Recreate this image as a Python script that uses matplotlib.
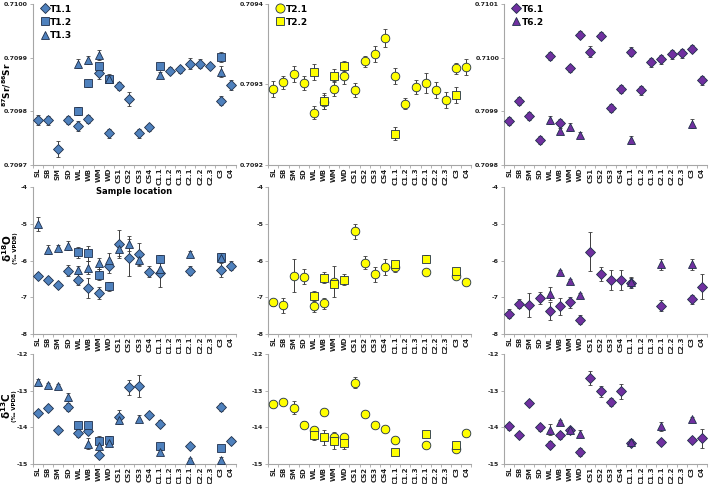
import numpy as np
import matplotlib
matplotlib.use("Agg")
import matplotlib.pyplot as plt
from matplotlib.lines import Line2D

categories = ['SL', 'SB', 'SM', 'SD', 'WL', 'WB', 'WM', 'WD', 'CS1', 'CS2', 'CS3', 'CS4',
              'C1.1', 'C1.2', 'C1.3', 'C2.1', 'C2.2', 'C2.3', 'C3', 'C4']
all_idx = list(range(20))
# positions of the sparse series: WL, WB, WM, WD, C1.1, C2.1, C3
sub_idx = [4, 5, 6, 7, 12, 15, 18]

# 87Sr/86Sr (errors in units of 1e-5)
sr_t11 = [0.709784, 0.709783, 0.709730, 0.709784, 0.709773, 0.709786, 0.709871, 0.709759, 0.709847, 0.709823,
          0.709759, 0.709770, None, 0.709876, 0.709878, 0.709889, 0.709889, 0.709884, 0.709820, 0.709849]
sr_t11_err = [1.0, 0.8, 1.5, 0.7, 0.9, 0.8, 1.0, 0.8, 0.8, 1.3, 0.8, 0.7, 0, 0.6, 0.7, 1.0, 0.8, 0.6, 0.8, 0.9]
sr_t12 = [0.709801, 0.709852, 0.709884, 0.709860, 0.709884, None, 0.709901]
sr_t12_err = [0.7, 0.6, 0.6, 0.6, 0.5, 0, 1.0]
sr_t13 = [0.709889, 0.709896, 0.709905, 0.709861, 0.709868, None, 0.709874]
sr_t13_err = [0.8, 0.8, 1.0, 0.8, 0.5, 0, 1.0]

sr_t21 = [0.709294, 0.709303, 0.709313, 0.709302, 0.709265, 0.709278, 0.709295, 0.709311, 0.709293, 0.709329,
          0.709338, 0.709358, 0.709310, 0.709276, 0.709297, 0.709302, 0.709293, 0.709281, 0.709320, 0.709322]
sr_t21_err = [1.0, 0.8, 1.0, 0.9, 0.8, 0.9, 0.9, 1.0, 0.9, 0.7, 1.0, 1.1, 1.0, 0.7, 0.9, 1.2, 1.0, 1.0, 0.7, 1.0]
sr_t22 = [0.709315, 0.709280, 0.709311, 0.709323, 0.709239, None, 0.709287]
sr_t22_err = [1.0, 1.0, 0.8, 0.6, 0.8, 0, 1.0]

sr_t61 = [0.709882, 0.709919, 0.709891, 0.709847, 0.710003, 0.709879, 0.709980, 0.710043, 0.710011, 0.710041,
          0.709906, 0.709942, 0.710011, 0.709939, 0.709991, 0.709997, 0.710006, 0.710008, 0.710017, 0.709958]
sr_t61_err = [0.8, 0.8, 0.7, 0.7, 0.7, 0.7, 0.6, 0.7, 1.0, 0.7, 0.8, 0.8, 0.8, 0.8, 0.8, 0.8, 0.8, 0.8, 0.6, 0.8]
sr_t62 = [0.709884, 0.709864, 0.709871, 0.709856, 0.709847, None, 0.709877]
sr_t62_err = [0.7, 0.5, 0.7, 0.5, 0.7, 0, 0.8]

# d18O
o_t11 = [-6.41, -6.52, -6.66, -6.28, -6.52, -6.75, -6.88, -6.16, -5.56, -5.92,
         -5.82, -6.30, -6.35, None, None, -6.28, None, None, -6.26, -6.14]
o_t11_err = [0.07, 0.08, 0.06, 0.15, 0.16, 0.28, 0.16, 0.18, 0.38, 0.5,
             0.3, 0.16, 0.38, 0, 0, 0.12, 0, 0, 0.2, 0.13]
o_t12 = [-5.78, -5.80, -6.39, -6.70, -5.96, None, -5.90]
o_t12_err = [0.15, 0.2, 0.15, 0.12, 0.1, 0, 0.1]
o_t13 = [-5.01, -5.71, -5.67, -5.60, -6.26, -6.20, -6.08, -5.99, -5.69, -5.54,
         -5.99, None, -6.23, None, None, -5.81, None, None, -5.92, None]
o_t13_err = [0.2, 0.12, 0.08, 0.12, 0.12, 0.18, 0.15, 0.2, 0.2, 0.2,
             0.15, 0, 0.2, 0, 0, 0.08, 0, 0, 0.12, 0]

o_t21 = [-7.14, -7.22, -6.42, -6.44, -7.25, -7.17, -6.58, None, -5.21, -6.06,
         -6.38, -6.17, -6.17, None, None, -6.31, None, None, -6.41, -6.58]
o_t21_err = [0.1, 0.2, 0.45, 0.2, 0.15, 0.15, 0.42, 0, 0.2, 0.18,
             0.2, 0.22, 0.15, 0, 0, 0.05, 0, 0, 0.05, 0.05]
o_t22 = [-6.96, -6.47, -6.63, -6.53, -6.10, -5.95, -6.28]
o_t22_err = [0.12, 0.15, 0.1, 0.15, 0.07, 0.1, 0.08]

o_t61 = [-7.45, -7.18, -7.22, -7.02, -7.38, -7.25, -7.13, -7.61, -5.76, -6.37,
         -6.54, -6.54, -6.61, None, None, -7.23, None, None, -7.06, -6.71]
o_t61_err = [0.12, 0.12, 0.33, 0.17, 0.25, 0.22, 0.15, 0.12, 0.53, 0.18,
             0.27, 0.27, 0.15, 0, 0, 0.15, 0, 0, 0.13, 0.33]
o_t62 = [-6.90, -6.32, -6.56, -6.95, -6.58, -6.10, -6.10]
o_t62_err = [0.17, 0.05, 0.05, 0.06, 0.1, 0.15, 0.15]

# d13C
c_t11 = [-13.61, -13.47, -14.06, -13.45, -14.15, -14.09, -14.76, None, -13.72, -12.91,
         -12.88, -13.67, -13.90, None, None, -14.50, None, None, -13.45, -14.38]
c_t11_err = [0.05, 0.05, 0.05, 0.1, 0.1, 0.1, 0.05, 0, 0.18, 0.2,
             0.3, 0.05, 0.1, 0, 0, 0.05, 0, 0, 0.1, 0.08]
c_t12 = [-13.93, -13.95, -14.38, -14.34, -14.50, None, -14.56]
c_t12_err = [0.06, 0.05, 0.15, 0.1, 0.05, 0, 0.05]
c_t13 = [-12.77, -12.85, -12.88, -13.17, None, -14.45, -14.50, -14.43, -13.79, None,
         -13.76, None, -14.67, None, None, -14.88, None, None, -14.90, None]
c_t13_err = [0.1, 0.05, 0.05, 0.1, 0, 0.15, 0.1, 0.05, 0.05, 0,
             0.1, 0, 0.05, 0, 0, 0.05, 0, 0, 0.08, 0]

c_t21 = [-13.36, -13.32, -13.47, -13.93, -14.07, -13.57, -14.25, -14.27, -12.79, -13.65,
         -13.94, -14.05, -14.34, None, None, -14.47, None, None, -14.59, -14.15]
c_t21_err = [0.05, 0.05, 0.18, 0.1, 0.05, 0.05, 0.05, 0.05, 0.15, 0.05,
             0.05, 0.05, 0.05, 0, 0, 0.05, 0, 0, 0.05, 0.05]
c_t22 = [-14.20, -14.27, -14.36, -14.43, -14.68, -14.18, -14.47]
c_t22_err = [0.15, 0.2, 0.22, 0.15, 0.05, 0.05, 0.05]

c_t61 = [-13.97, -14.22, -13.34, -14.00, -14.47, -14.22, -14.08, -14.67, -12.65, -13.02,
         -13.31, -13.02, -14.43, None, None, -14.39, None, None, -14.34, -14.30]
c_t61_err = [0.1, 0.05, 0.05, 0.1, 0.1, 0.1, 0.05, 0.1, 0.2, 0.15,
             0.12, 0.2, 0.05, 0, 0, 0.05, 0, 0, 0.05, 0.25]
c_t62 = [-14.06, -13.85, -14.06, -14.17, -14.41, -13.97, -13.76]
c_t62_err = [0.15, 0.05, 0.05, 0.1, 0.1, 0.12, 0.05]

BLUE = '#4f81bd'
YELLOW = '#ffff00'
PURPLE = '#7030a0'
EDGE = '#1f2f4a'
MS = {'D': 4.6, 's': 5.4, '^': 5.6, 'o': 6.2}


def drawSeries(ax, idx, vals, errs, marker, color, scale=1.0):
    x = np.array(idx, dtype=float)
    y = np.array(vals, dtype=float)
    e = np.nan_to_num(np.array(errs, dtype=float)) * scale
    ok = ~np.isnan(y)
    ax.errorbar(x[ok], y[ok], yerr=e[ok], fmt=marker, ms=MS[marker], mfc=color, mec=EDGE, mew=0.6,
                ecolor='#3c3c3c', elinewidth=0.7, capsize=1.4, capthick=0.7, zorder=3)


def styleAxes(ax, ylim, yticks, fmt):
    ax.set_xlim(-0.5, 19.5)
    ax.set_ylim(*ylim)
    ax.set_yticks(yticks)
    ax.set_yticklabels([fmt.format(t) for t in yticks], fontsize=4.5, fontweight='bold', color='#222222')
    ax.set_xticks(all_idx)
    ax.set_xticklabels(categories, rotation=90, fontsize=5, fontweight='bold', color='#222222')
    ax.set_xticks(np.arange(-0.5, 20, 1.0), minor=True)
    ax.tick_params(axis='x', which='major', length=0, pad=2)
    ax.tick_params(axis='x', which='minor', length=2, color='#a6a6a6', width=0.6)
    ax.tick_params(axis='y', length=2, color='#a6a6a6', width=0.6, pad=1.5)
    for s in ['top', 'right']:
        ax.spines[s].set_visible(False)
    for s in ['left', 'bottom']:
        ax.spines[s].set_color('#a6a6a6')
        ax.spines[s].set_linewidth(0.8)


def addLegend(ax, entries):
    handles = [Line2D([], [], ls='none', marker=m, ms=MS[m] + 0.4, mfc=c, mec=EDGE, mew=0.6, label=l)
               for m, c, l in entries]
    ax.legend(handles=handles, loc='upper left', bbox_to_anchor=(0.01, 1.03), frameon=False,
              prop={'size': 6.5, 'weight': 'bold'}, handletextpad=0.1, labelspacing=0.45,
              handlelength=1.0, borderaxespad=0.2)


W, H = 709, 484
fig = plt.figure(figsize=(W / 100, H / 100), dpi=100)
colLeft = [32.6, 268.2, 504.0]
colWidth = 203.2
rows = [(4, 165), (187, 334), (354, 464)]

axes = [[None] * 3 for _ in range(3)]
for r, (top, bottom) in enumerate(rows):
    for c, left in enumerate(colLeft):
        axes[r][c] = fig.add_axes([left / W, 1 - bottom / H, colWidth / W, (bottom - top) / H])

# strontium row
ax = axes[0][0]
drawSeries(ax, all_idx, sr_t11, sr_t11_err, 'D', BLUE, 1e-5)
drawSeries(ax, sub_idx, sr_t12, sr_t12_err, 's', BLUE, 1e-5)
drawSeries(ax, sub_idx, sr_t13, sr_t13_err, '^', BLUE, 1e-5)
styleAxes(ax, (0.7097, 0.7100), [0.7097, 0.7098, 0.7099, 0.7100], '{:.4f}')
addLegend(ax, [('D', BLUE, 'T1.1'), ('s', BLUE, 'T1.2'), ('^', BLUE, 'T1.3')])

ax = axes[0][1]
drawSeries(ax, all_idx, sr_t21, sr_t21_err, 'o', YELLOW, 1e-5)
drawSeries(ax, sub_idx, sr_t22, sr_t22_err, 's', YELLOW, 1e-5)
styleAxes(ax, (0.7092, 0.7094), [0.7092, 0.7093, 0.7094], '{:.4f}')
addLegend(ax, [('o', YELLOW, 'T2.1'), ('s', YELLOW, 'T2.2')])

ax = axes[0][2]
drawSeries(ax, all_idx, sr_t61, sr_t61_err, 'D', PURPLE, 1e-5)
drawSeries(ax, sub_idx, sr_t62, sr_t62_err, '^', PURPLE, 1e-5)
styleAxes(ax, (0.7098, 0.7101), [0.7098, 0.7099, 0.7100, 0.7101], '{:.4f}')
addLegend(ax, [('D', PURPLE, 'T6.1'), ('^', PURPLE, 'T6.2')])

# oxygen row
ax = axes[1][0]
drawSeries(ax, all_idx, o_t11, o_t11_err, 'D', BLUE)
drawSeries(ax, sub_idx, o_t12, o_t12_err, 's', BLUE)
drawSeries(ax, all_idx, o_t13, o_t13_err, '^', BLUE)
ax = axes[1][1]
drawSeries(ax, all_idx, o_t21, o_t21_err, 'o', YELLOW)
drawSeries(ax, sub_idx, o_t22, o_t22_err, 's', YELLOW)
ax = axes[1][2]
drawSeries(ax, all_idx, o_t61, o_t61_err, 'D', PURPLE)
drawSeries(ax, sub_idx, o_t62, o_t62_err, '^', PURPLE)
for ax in axes[1]:
    styleAxes(ax, (-8, -4), [-8, -7, -6, -5, -4], '{:d}')

# carbon row
ax = axes[2][0]
drawSeries(ax, all_idx, c_t11, c_t11_err, 'D', BLUE)
drawSeries(ax, sub_idx, c_t12, c_t12_err, 's', BLUE)
drawSeries(ax, all_idx, c_t13, c_t13_err, '^', BLUE)
ax = axes[2][1]
drawSeries(ax, all_idx, c_t21, c_t21_err, 'o', YELLOW)
drawSeries(ax, sub_idx, c_t22, c_t22_err, 's', YELLOW)
ax = axes[2][2]
drawSeries(ax, all_idx, c_t61, c_t61_err, 'D', PURPLE)
drawSeries(ax, sub_idx, c_t62, c_t62_err, '^', PURPLE)
for ax in axes[2]:
    styleAxes(ax, (-15, -12), [-15, -14, -13, -12], '{:d}')

# axis titles
fig.text(134 / W, 1 - 192 / H, 'Sample location', ha='center', va='center', fontsize=6, fontweight='bold')
fig.text(6.5 / W, 1 - 85 / H, r'$\mathbf{^{87}Sr/^{86}Sr}$', rotation=90, ha='center', va='center', fontsize=6.4)
fig.text(7 / W, 1 - 248 / H, r'$\mathbf{\delta^{18}O}$', rotation=90, ha='center', va='center', fontsize=7.5)
fig.text(15.5 / W, 1 - 248 / H, '(‰ VPDB)', rotation=90, ha='center', va='center', fontsize=4, fontweight='bold')
fig.text(6.5 / W, 1 - 406 / H, r'$\mathbf{\delta^{13}C}$', rotation=90, ha='center', va='center', fontsize=7.5)
fig.text(14.5 / W, 1 - 406 / H, '(‰ VPDB)', rotation=90, ha='center', va='center', fontsize=4, fontweight='bold')

fig.savefig('out.png', dpi=100)
